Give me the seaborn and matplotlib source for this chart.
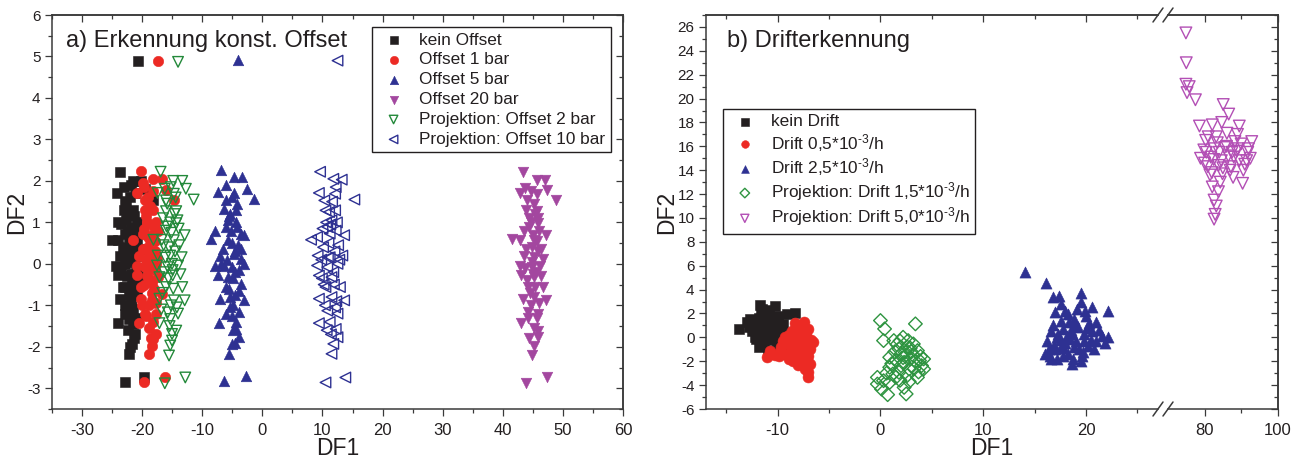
import matplotlib
matplotlib.use("Agg")
import matplotlib.pyplot as plt
import seaborn as sns
from matplotlib.ticker import MultipleLocator, FixedLocator
from matplotlib.lines import Line2D

sns.set_theme(style="ticks")
plt.rcParams["font.family"] = ["Liberation Sans", "DejaVu Sans"]
plt.rcParams["axes.unicode_minus"] = False
plt.rcParams["mathtext.default"] = "regular"

TXT = "#231F20"
SP = "#3A3A3A"

# ---------------- Panel a data ----------------
a_kein_x = [-23.6, -21.5, -20.2, -23.0, -24.1, -19.5, -18.1, -22.9, -21.2, -23.0, -21.5, -23.9, -22.6, -21.9,
            -25.0, -23.9, -22.9, -21.2, -23.7, -22.2, -24.3, -22.9, -21.2, -23.9, -21.9, -22.9, -21.5, -23.6,
            -22.2, -20.8, -22.9, -21.5, -23.9, -22.2, -21.2, -21.7, -22.2, -22.9, -19.6, -20.6,
            -22.0, -21.8, -22.5, -21.0, -22.3, -21.6, -22.8, -21.1, -20.8, -20.5, -20.9, -22.0, -21.3, -20.6,
            -22.4, -23.2, -21.9,
            -22.7, -21.4, -22.1, -23.4, -20.9, -22.6, -21.7, -23.1, -21.0, -22.3, -21.5, -22.9, -20.7, -21.8,
            -23.5, -22.0, -21.2, -22.5, -20.4, -21.9]
a_kein_y = [2.22, 2.0, 2.0, 1.85, 1.71, 1.81, 1.55, 1.52, 1.71, 1.29, 1.29, 1.0, 1.05, 0.89,
            0.58, 0.58, 0.73, 0.73, 0.2, 0.36, -0.04, 0.0, 0.24, -0.28, -0.24, -0.56, -0.48, -0.84,
            -0.76, -0.72, -1.2, -1.09, -1.43, -1.33, -1.69, -1.93, -2.17, -2.86, -2.72, 4.9,
            0.5, 0.1, -0.3, -0.1, 0.8, -0.6, -1.0, 0.45, 1.0, -0.4, -1.3, 1.6, -1.8, 0.2,
            -1.6, 0.4, -0.9,
            1.4, 1.15, 0.65, 0.95, 0.6, 0.05, -0.35, -0.55, -0.75, -1.15, -1.45, 0.25, -0.2, 1.9,
            -0.15, -2.0, 0.85, 1.2, 0.35, -1.05]

a_off1_x = [-20.2, -18.1, -16.6, -19.6, -20.8, -16.0, -14.7, -19.5, -18.1, -19.5, -17.7, -19.1, -17.4, -21.5,
            -19.8, -18.6, -20.5, -18.8, -20.8, -19.5, -17.7, -20.8, -18.8, -17.4, -20.1, -18.0, -16.7, -20.1,
            -18.4, -19.5, -17.7, -20.5, -17.7, -18.1, -18.4, -18.8, -19.6, -16.2, -17.4,
            -19.0, -18.5, -19.2, -18.3, -19.7, -18.9, -17.9, -19.3, -18.2, -19.0,
            -18.7, -19.4, -18.0, -19.9, -18.6, -17.8, -19.1, -18.4, -20.0, -17.6, -18.9, -19.6, -18.1, -19.3,
            -17.9, -18.5, -19.8, -18.3, -17.5, -19.0]
a_off1_y = [2.24, 2.04, 2.04, 1.85, 1.71, 1.79, 1.55, 1.53, 1.29, 1.29, 1.0, 0.98, 0.8, 0.58,
            0.73, 0.57, 0.2, 0.24, -0.04, -0.08, 0.0, -0.28, -0.36, -0.32, -0.56, -0.6, -0.72, -0.84,
            -0.88, -1.2, -1.2, -1.43, -1.69, -1.81, -1.97, -2.17, -2.86, -2.72, 4.9,
            0.4, -0.1, 1.0, 0.7, -0.5, -1.0, 0.3, 0.1, -1.4, 1.6,
            1.4, 1.15, 0.9, 0.35, 0.05, -0.15, -0.3, -0.7, -1.0, -0.95, -1.55, 0.85, 1.75, -1.25,
            0.55, -1.8, 1.95, -0.45, 0.15, 0.65]

a_off5_x = [-6.9, -4.7, -3.3, -6.1, -7.4, -4.7, -2.6, -1.4, -6.1, -6.4, -4.3, -5.7, -4.3, -7.8,
            -3.6, -8.5, -5.7, -3.0, -7.1, -4.7, -3.6, -7.8, -5.0, -3.0, -7.4, -5.7, -3.6, -6.1,
            -7.1, -5.4, -3.0, -6.1, -3.9, -7.2, -4.3, -3.9, -5.0, -5.6, -6.3, -2.7, -4.0,
            -5.0, -4.5, -5.3, -4.8, -4.2, -5.5, -4.6, -5.1, -4.4,
            -5.2, -4.1, -5.8, -4.9, -3.8, -6.3, -4.6, -5.4, -3.5, -6.6, -4.2, -5.6, -4.9, -3.9,
            -6.0, -5.1, -4.5, -6.8]
a_off5_y = [2.26, 2.1, 2.1, 1.89, 1.73, 1.71, 1.81, 1.57, 1.53, 1.33, 1.31, 1.05, 1.0, 0.8,
            0.73, 0.61, 0.57, 0.69, 0.2, 0.24, 0.12, -0.04, -0.08, 0.0, -0.28, -0.32, -0.48, -0.56,
            -0.84, -0.8, -0.88, -1.2, -1.17, -1.43, -1.57, -1.77, -1.93, -2.17, -2.83, -2.7, 4.91,
            0.5, -0.2, 1.2, -1.0, 0.9, -0.6, 0.3, 1.6, -1.4,
            0.8, 0.45, 0.1, -0.35, -0.15, -0.05, -0.75, -1.05, 0.35, 0.35, 1.45, 1.15, -1.6, -0.65,
            0.9, -1.25, -1.9, 0.0]

a_off20_x = [43.3, 45.6, 47.0, 43.7, 42.8, 45.6, 47.4, 48.8, 44.0, 43.9, 45.6, 44.7, 45.9, 43.5,
             47.2, 41.5, 42.8, 45.2, 43.5, 45.2, 46.6, 42.8, 44.8, 46.2, 43.0, 45.2, 46.6, 44.2,
             43.3, 45.2, 47.2, 44.2, 45.9, 43.0, 45.9, 45.8, 45.2, 44.9, 43.9, 47.3,
             44.8, 45.5, 44.3, 45.8, 44.6, 45.3, 44.0, 45.7, 45.0,
             45.1, 44.4, 46.0, 44.9, 45.6, 43.8, 46.3, 44.5, 45.4, 44.1, 46.0, 44.7, 45.9, 43.6,
             45.2, 44.3, 46.4, 45.0]
a_off20_y = [2.22, 2.03, 2.03, 1.84, 1.71, 1.69, 1.79, 1.55, 1.53, 1.29, 1.27, 1.0, 0.98, 0.8,
             0.69, 0.61, 0.57, 0.57, 0.2, 0.16, 0.12, -0.04, -0.08, -0.04, -0.28, -0.32, -0.56, -0.56,
             -0.84, -0.8, -0.88, -1.17, -1.2, -1.43, -1.61, -1.77, -1.97, -2.21, -2.88, -2.74,
             0.4, -0.2, 0.9, 0.3, -1.0, 1.2, -0.4, -1.3, 0.7,
             1.45, 1.1, 0.8, 0.05, 0.55, 0.35, -0.3, -0.7, -0.55, -1.3, -0.95, 1.75, 1.1, -0.1,
             -1.55, -1.8, 0.35, -0.25]

a_proj2_x = [-16.9, -14.8, -13.3, -16.2, -17.4, -14.7, -12.7, -11.4, -16.0, -14.3, -16.0, -15.3, -14.3, -16.0,
             -12.9, -18.1, -16.7, -14.7, -17.4, -15.3, -13.4, -17.5, -15.7, -14.0, -17.1, -14.9, -13.3, -16.0,
             -17.1, -14.7, -12.9, -15.7, -14.0, -17.1, -15.3, -14.3, -15.0, -15.3, -15.5, -16.2, -12.8, -14.0,
             -15.5, -14.8, -15.9, -14.5, -15.2, -16.3, -14.6, -15.0,
             -15.8, -14.4, -16.5, -15.1, -13.8, -16.1, -14.9, -15.6, -13.6, -16.6, -14.2, -15.4, -16.8, -14.1,
             -15.0, -13.9, -16.4, -15.2]
a_proj2_y = [2.22, 2.0, 2.0, 1.81, 1.71, 1.69, 1.81, 1.55, 1.53, 1.27, 1.27, 1.0, 0.98, 0.8,
             0.69, 0.58, 0.58, 0.57, 0.2, 0.2, 0.16, -0.04, -0.08, -0.04, -0.32, -0.28, -0.56, -0.56,
             -0.84, -0.88, -0.88, -1.17, -1.2, -1.43, -1.33, -1.61, -1.69, -1.97, -2.21, -2.88, -2.74, 4.87,
             0.4, -0.6, 0.9, 0.3, -1.0, -0.2, 1.2, 0.0,
             1.45, 1.6, 1.1, 0.75, 0.45, 0.15, -0.15, -0.35, -0.25, -0.7, -1.05, -1.5, -1.1, 1.05,
             -1.85, 0.85, 0.45, 1.85]

a_proj10_x = [9.6, 11.8, 13.2, 12.2, 9.4, 12.1, 15.3, 10.3, 10.5, 12.1, 11.5, 10.8, 12.2, 8.1,
              9.1, 11.2, 13.6, 10.1, 9.2, 11.2, 13.3, 9.1, 10.8, 12.5, 9.4, 11.5, 12.9, 10.5,
              9.4, 11.5, 13.6, 10.8, 12.5, 9.4, 12.2, 12.5, 11.8, 11.5, 10.5, 13.8, 12.5,
              11.0, 11.8, 10.6, 12.0, 11.2, 10.2, 12.3, 11.6,
              11.3, 10.0, 12.6, 10.9, 11.9, 9.8, 12.1, 10.4, 11.4, 12.8, 9.9, 11.1, 10.7, 12.4]
a_proj10_y = [2.22, 2.05, 2.03, 1.85, 1.71, 1.69, 1.55, 1.53, 1.29, 1.29, 1.05, 0.89, 0.8, 0.58,
              0.65, 0.73, 0.69, 0.4, 0.2, 0.16, 0.2, -0.04, -0.08, 0.0, -0.28, -0.32, -0.56, -0.56,
              -0.84, -0.8, -0.88, -1.13, -1.2, -1.43, -1.57, -1.77, -1.93, -2.17, -2.86, -2.74, 4.9,
              0.5, -0.2, 1.0, 0.3, -1.4, -0.5, -0.9, 1.5,
              0.95, 0.85, 0.45, 0.15, -0.5, 0.1, -1.05, -1.0, -1.7, 0.1, -0.35, 1.25, -1.6, 1.0]

# ---------------- Panel b data ----------------
b_kein_x = [-13.8, -13.0, -12.5, -11.7, -10.3, -8.3, -11.5, -10.7, -11.9, -11.1, -10.3, -9.9, -11.7, -10.7,
            -10.1, -11.3, -10.5, -9.9, -9.5, -10.9, -12.3, -11.5, -12.7, -9.5, -9.3, -12.1, -10.3, -10.9,
            -9.1, -11.3, -10.6, -11.0, -10.0, -11.8, -9.7,
            -12.0, -11.2, -10.4, -11.6, -10.8, -12.4, -10.0, -11.4, -10.6, -12.8, -9.8, -11.0, -12.2, -10.2, -11.8]
b_kein_y = [0.71, 1.27, 0.57, 2.75, 2.66, 2.02, 1.96, 1.68, 1.13, 0.71, 1.27, 0.57, 0.15, 0.01,
            -0.55, -0.69, -1.11, -1.39, -0.83, -1.39, 0.85, 2.38, 1.55, 1.13, 0.29, -0.13, 0.29, 1.41,
            1.96, 0.57, 0.9, 0.0, 1.8, 1.6, -0.3,
            0.3, 1.0, 0.6, 2.1, 2.3, 1.1, -0.9, -0.4, -0.2, 0.9, 0.9, 1.4, 0.0, -1.2, -0.8]

b_d05_x = [-8.3, -7.4, -8.6, -7.8, -7.0, -9.3, -8.5, -7.5, -6.6, -9.7, -8.7, -7.7, -6.9, -10.7,
           -11.0, -9.9, -8.9, -7.8, -7.0, -6.9, -7.3, -7.0, -9.3, -8.1, -8.3, -7.3, -9.1, -7.7,
           -8.5, -7.5, -8.0, -7.6, -8.8,
           -8.2, -7.2, -8.9, -7.9, -6.8, -9.5, -8.4, -7.4, -8.7, -7.1, -9.8, -8.0, -7.0, -10.3, -7.7]
b_d05_y = [1.18, 1.27, 0.57, 0.57, 0.71, 0.01, -0.13, 0.01, -0.41, -0.83, -0.83, -0.83, -0.97, -1.11,
           -1.67, -1.53, -1.81, -1.67, -1.53, -2.23, -2.65, -3.35, -1.39, -1.25, -0.41, -0.55, -0.55, 0.29,
           -1.95, -2.09, -0.2, -1.2, -1.2,
           0.9, 0.2, 0.2, -0.5, -0.2, -0.3, -0.9, -1.0, -1.5, -1.9, -1.2, -2.3, -2.9, -1.5, 0.8]

b_d25_x = [14.1, 16.1, 16.8, 17.4, 19.5, 17.0, 18.0, 19.5, 20.6, 22.1, 20.0, 17.6, 18.8, 21.0,
           16.6, 17.8, 19.2, 20.6, 21.6, 16.2, 17.2, 18.4, 19.8, 21.0, 22.1, 16.4, 17.6, 18.8,
           20.2, 16.6, 17.8, 18.6, 19.5, 17.2, 18.2, 19.7, 16.0, 18.6, 19.8, 18.2,
           18.0, 19.0, 17.5, 18.5, 19.3, 20.5, 17.0, 18.9, 20.3, 16.9,
           17.3, 18.3, 19.1, 20.1, 21.3, 16.8, 17.9, 19.6, 20.8, 18.7, 17.6, 19.9, 21.8, 16.5, 18.1]
b_d25_y = [5.46, 4.54, 3.36, 3.5, 3.7, 2.1, 2.24, 2.94, 2.58, 2.24, 1.82, 1.35, 1.54, 1.27,
           0.57, 0.71, 0.85, 0.57, 0.15, -0.27, 0.01, -0.13, -0.27, -0.27, 0.01, -0.97, -0.83, -0.83,
           -0.69, -1.81, -1.53, -2.23, -1.95, -1.81, -1.39, -1.25, -1.39, 0.29, 0.29, 1.96,
           -0.5, -0.3, -0.2, 0.6, -1.0, -0.2, -1.0, 1.0, 1.2, -0.6,
           0.3, 1.3, 2.4, 0.8, 0.6, 1.0, -0.9, -1.6, -1.0, -1.8, 2.8, 2.2, -0.5, -1.6, 0.1]

b_p15_x = [0.0, 0.4, 0.3, 3.4, 1.3, 2.2, 2.7, 3.2, 1.8, 2.4, 3.6, 4.2, 3.8, 0.9, 1.5, 2.3, 2.9, 0.9,
           2.0, 2.8, 4.2, -0.3, 0.3, -0.3, 0.9, 1.5, 2.3, 0.7, 2.5, 3.6, 1.8, 3.2, 2.0, 4.0, 1.2, 0.1,
           2.6, 3.0, 1.6, 2.2, 3.4, 2.6, 1.1,
           1.9, 2.9, 3.9, 2.5, 1.4, 3.3, 0.6, 1.9, 2.8, 3.7]
b_p15_y = [1.41, 0.71, -0.27, 1.13, -0.27, 0.01, -0.27, -0.55, -0.97, -1.25, -1.11, -1.81, -1.95, -1.67,
           -1.95, -2.09, -1.81, -2.51, -2.37, -2.65, -2.65, -3.35, -3.63, -3.91, -3.77, -3.35, -4.19, -4.8,
           -4.74, -3.35, -2.93, -1.53, -1.39, -2.37, -3.07, -4.33,
           -0.8, -1.2, -0.6, -1.7, -2.0, -3.2, -2.2,
           -0.3, -0.9, -1.6, -1.5, -1.2, -2.6, -3.0, -3.6, -3.7, -2.9]

b_p50_x = [74.9, 75.0, 74.9, 75.8, 75.2, 77.5, 85.1, 86.6, 78.6, 82.1, 84.7, 89.5, 80.3, 83.2,
           86.1, 88.3, 92.9, 79.8, 82.6, 85.5, 89.0, 91.8, 78.9, 81.7, 84.6, 88.0, 91.5, 80.9,
           83.8, 87.2, 90.6, 81.5, 84.9, 87.8, 90.4, 82.1, 83.8, 82.6, 83.2, 82.9, 82.6,
           86.0, 84.0, 87.5, 90.0, 92.0, 85.0, 89.5, 82.5, 80.5, 92.5,
           81.0, 83.5, 86.5, 88.8, 91.0, 84.3, 87.0, 80.0, 82.0, 89.0]
b_p50_y = [25.5, 23.0, 21.2, 21.0, 20.5, 19.9, 19.5, 18.7, 17.7, 17.8, 18.0, 17.7, 16.5, 16.8,
           17.1, 16.4, 16.4, 15.7, 15.8, 15.9, 15.8, 15.5, 15.0, 15.1, 14.8, 15.1, 14.8, 14.3,
           14.4, 14.3, 14.0, 13.6, 13.7, 13.4, 12.9, 12.6, 12.2, 11.5, 11.0, 10.3, 9.9,
           16.0, 15.5, 15.5, 16.2, 15.8, 14.2, 14.8, 14.9, 15.5, 15.0,
           16.8, 16.3, 15.2, 15.6, 14.5, 13.0, 14.0, 14.6, 13.8, 17.0]

a_labels = ["kein Offset", "Offset 1 bar", "Offset 5 bar", "Offset 20 bar",
            "Projektion: Offset 2 bar", "Projektion: Offset 10 bar"]
b_labels = ["kein Drift", "Drift 0,5*10$^{\u20103}$/h", "Drift 2,5*10$^{\u20103}$/h",
            "Projektion: Drift 1,5*10$^{\u20103}$/h", "Projektion: Drift 5,0*10$^{\u20103}$/h"]

C_BLACK = "#231F20"
C_RED = "#EC2A24"
C_NAVY = "#2E3192"
C_PURPLE = "#A3479F"
C_GREEN = "#23893A"
C_GREEN2 = "#2E9440"
C_MAG = "#B34FB5"

W, H = 1305, 465
fig = plt.figure(figsize=(W / 100, H / 100), dpi=100)


def fx(px):
    return px / W


def fy(py):
    return (H - py) / H


def series(ax, x, y, marker, color, label, filled=True, s=40, lw=1.0):
    if filled:
        sns.scatterplot(x=x, y=y, ax=ax, marker=marker, color=color, edgecolor=color,
                        linewidth=0.4, s=s, label=label, zorder=3)
    else:
        sns.scatterplot(x=x, y=y, ax=ax, marker=marker, color=color, facecolor="none",
                        edgecolor=color, linewidth=lw, s=s, label=label, zorder=3)


def base_style(ax):
    for sp in ax.spines.values():
        sp.set_color(SP)
        sp.set_linewidth(1.1)
    ax.tick_params(axis="both", which="both", direction="out", colors=SP,
                   top=False, right=False, bottom=True, left=True)
    ax.tick_params(axis="both", which="major", length=5, width=0.9)
    ax.tick_params(axis="both", which="minor", length=3, width=0.9)
    ax.tick_params(axis="x", labelsize=12, pad=5, labelcolor=TXT)
    ax.tick_params(axis="y", labelsize=11, pad=3, labelcolor=TXT)
    ax.set_xlabel("")
    ax.set_ylabel("")


def inner_top(ax, major, minor):
    sx = ax.secondary_xaxis("top")
    sx.xaxis.set_major_locator(major)
    sx.xaxis.set_minor_locator(minor)
    sx.tick_params(axis="x", which="both", direction="in", labeltop=False, colors=SP)
    sx.tick_params(axis="x", which="major", length=5, width=0.9)
    sx.tick_params(axis="x", which="minor", length=3, width=0.9)
    sx.spines["top"].set_color(SP)
    sx.spines["top"].set_linewidth(1.1)
    return sx


def inner_right(ax, major, minor):
    sy = ax.secondary_yaxis("right")
    sy.yaxis.set_major_locator(major)
    sy.yaxis.set_minor_locator(minor)
    sy.tick_params(axis="y", which="both", direction="in", labelright=False, colors=SP)
    sy.tick_params(axis="y", which="major", length=5, width=0.9)
    sy.tick_params(axis="y", which="minor", length=3, width=0.9)
    sy.spines["right"].set_color(SP)
    sy.spines["right"].set_linewidth(1.1)
    return sy


def style_legend(leg):
    leg.get_frame().set_linewidth(1.0)
    for t in leg.get_texts():
        t.set_color(TXT)


# ================= Panel a =================
axa = fig.add_axes([fx(51.7), fy(409), fx(623.3 - 51.7), (409 - 15) / H])
series(axa, a_kein_x, a_kein_y, "s", C_BLACK, a_labels[0], s=44)
series(axa, a_off1_x, a_off1_y, "o", C_RED, a_labels[1], s=56)
series(axa, a_off5_x, a_off5_y, "^", C_NAVY, a_labels[2], s=58)
series(axa, a_off20_x, a_off20_y, "v", C_PURPLE, a_labels[3], s=58)
series(axa, a_proj2_x, a_proj2_y, "v", C_GREEN, a_labels[4], filled=False, s=58)
series(axa, a_proj10_x, a_proj10_y, "<", C_NAVY, a_labels[5], filled=False, s=58)
axa.set_xlim(-35, 60)
axa.set_ylim(-3.5, 6)
axa.xaxis.set_major_locator(MultipleLocator(10))
axa.xaxis.set_minor_locator(MultipleLocator(5))
axa.yaxis.set_major_locator(MultipleLocator(1))
axa.yaxis.set_minor_locator(MultipleLocator(0.5))
base_style(axa)
inner_top(axa, MultipleLocator(10), MultipleLocator(5))
inner_right(axa, MultipleLocator(1), MultipleLocator(0.5))

leg = axa.legend(loc="upper right", bbox_to_anchor=(fx(610.7), fy(27.3)), bbox_transform=fig.transFigure,
                 borderaxespad=0, frameon=True, fancybox=False, edgecolor=TXT, framealpha=1,
                 fontsize=12.4, labelspacing=0.28, handlelength=1.9, handletextpad=0.55,
                 borderpad=0.3, markerscale=0.8)
style_legend(leg)

fig.text(fx(65.7), fy(46.7), "a) Erkennung konst. Offset", fontsize=17, color=TXT,
         ha="left", va="baseline")
fig.text(fx(337.5), fy(448), "DF1", fontsize=16.5, color=TXT, ha="center", va="center")
fig.text(fx(16.5), fy(212), "DF2", fontsize=16.5, color=TXT, ha="center", va="center", rotation=90)

# ================= Panel b (broken x axis) =================
axb1 = fig.add_axes([fx(705.7), fy(409), fx(1158 - 705.7), (409 - 15) / H])
axb2 = fig.add_axes([fx(1168), fy(409), fx(1277.7 - 1168), (409 - 15) / H], sharey=axb1)

b_series = [
    (b_kein_x, b_kein_y, "s", C_BLACK, True, 55),
    (b_d05_x, b_d05_y, "o", C_RED, True, 62),
    (b_d25_x, b_d25_y, "^", C_NAVY, True, 64),
    (b_p15_x, b_p15_y, "D", C_GREEN2, False, 48),
    (b_p50_x, b_p50_y, "v", C_MAG, False, 70),
]
for ax in (axb1, axb2):
    for (x, y, m, c, f, s), lab in zip(b_series, b_labels):
        series(ax, x, y, m, c, lab, filled=f, s=s)
    base_style(ax)
if axb2.get_legend() is not None:
    axb2.get_legend().remove()

axb1.set_xlim(-17, 27)
axb2.set_xlim(70, 100)
axb1.set_ylim(-6, 27)
axb1.xaxis.set_major_locator(MultipleLocator(10))
axb1.xaxis.set_minor_locator(MultipleLocator(5))
axb1.yaxis.set_major_locator(MultipleLocator(2))
axb1.yaxis.set_minor_locator(MultipleLocator(1))
axb2.xaxis.set_major_locator(FixedLocator([80, 100]))
axb2.xaxis.set_minor_locator(FixedLocator([90]))

axb1.spines["right"].set_visible(False)
axb2.spines["left"].set_visible(False)
axb2.tick_params(axis="y", which="both", left=False, labelleft=False)

inner_top(axb1, MultipleLocator(10), MultipleLocator(5))
inner_top(axb2, FixedLocator([80, 100]), FixedLocator([90]))
inner_right(axb2, MultipleLocator(2), MultipleLocator(1))

# break marks
for yb in (409, 15):
    for xb in (1158, 1168):
        fig.add_artist(Line2D([fx(xb - 5), fx(xb + 5)], [fy(yb + 7), fy(yb - 7)],
                              transform=fig.transFigure, color=SP, lw=1.1))

legb = axb1.legend(loc="upper left", bbox_to_anchor=(fx(723.3), fy(109)), bbox_transform=fig.transFigure,
                   borderaxespad=0, frameon=True, fancybox=False, edgecolor=TXT, framealpha=1,
                   fontsize=12.4, labelspacing=0.14, handlelength=1.9, handletextpad=0.55,
                   borderpad=0.3, markerscale=0.7)
style_legend(legb)

fig.text(fx(727.3), fy(46.7), "b) Drifterkennung", fontsize=17, color=TXT, ha="left", va="baseline")
fig.text(fx(991.7), fy(448), "DF1", fontsize=16.5, color=TXT, ha="center", va="center")
fig.text(fx(666.5), fy(212), "DF2", fontsize=16.5, color=TXT, ha="center", va="center", rotation=90)

fig.savefig("out.png", dpi=100)
